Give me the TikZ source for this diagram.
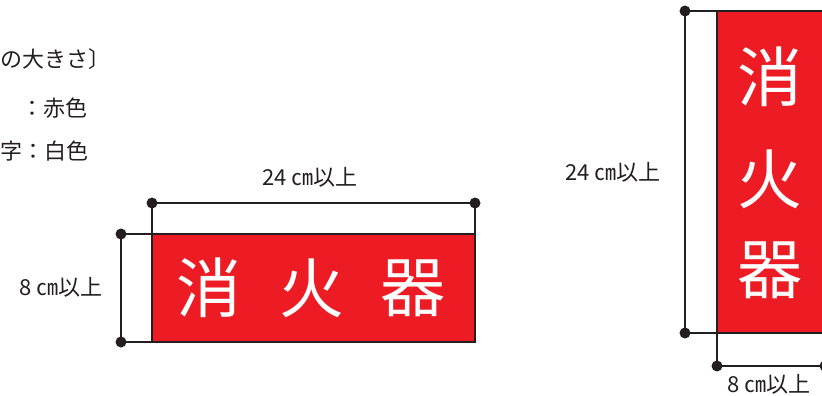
\documentclass[tikz,border=0pt]{standalone}
\usepackage{fontspec}
\newfontfamily\jp{Noto Sans CJK JP}
\definecolor{signred}{RGB}{237,28,36}
\definecolor{ink}{RGB}{35,31,32}
\begin{document}
\begin{tikzpicture}[x=1pt,y=-1pt,
 dim/.style={draw=ink,line width=1.9pt},
 dotnode/.style={circle,fill=ink,inner sep=0pt,minimum size=11pt},
 lbl/.style={font=\jp\fontsize{22}{26}\selectfont,text=ink,inner sep=0pt},
 note/.style={font=\jp\fontsize{22}{26}\selectfont,text=ink,inner sep=0pt,anchor=west},
 big/.style={font=\jp\fontsize{65}{70}\selectfont,text=white,inner sep=0pt},
 sign/.style={fill=signred,draw=ink,line width=1.9pt,inner sep=0pt,outer sep=0pt,anchor=north west}]
\useasboundingbox (0,0) rectangle (822,396);
\clip (0,0) rectangle (822,396);
% notes at left
\node[note] (n1) at (0,59) {の大きさ〕};
\node[note] (n2) at (21,108) {：赤色};
\node[note] (n3) at (0,151) {字：白色};
% left (horizontal) sign
\node[sign,minimum width=323pt,minimum height=108pt] (s1) at (152,234) {};
\node[big] (c11) at (209,288) {消};
\node[big] (c12) at (312,288) {火};
\node[big] (c13) at (413,288) {器};
\node[dotnode] (t1) at (152,203) {};
\node[dotnode] (t2) at (475,203) {};
\node[dotnode] (l1) at (121,234) {};
\node[dotnode] (l2) at (121,342) {};
\draw[dim] (t1.center) -- (t2.center);
\draw[dim] (t1.center) -- (s1.north west);
\draw[dim] (t2.center) -- (s1.north east);
\draw[dim] (l1.center) -- (l2.center);
\draw[dim] (l1.center) -- (s1.north west);
\draw[dim] (l2.center) -- (s1.south west);
\node[lbl] (w1) at (310,177) {24 ㎝以上};
\node[lbl,anchor=east] (h1) at (103,287) {8 ㎝以上};
% right (vertical) sign
\node[sign,minimum width=108pt,minimum height=322pt] (s2) at (717,11) {};
\node[big] (c21) at (770,77) {消};
\node[big] (c22) at (770,179) {火};
\node[big] (c23) at (770,270) {器};
\node[dotnode] (r1) at (685,11) {};
\node[dotnode] (r2) at (685,333) {};
\node[dotnode] (b1) at (717,366) {};
\node[dotnode] (b2) at (825,366) {};
\draw[dim] (r1.center) -- (r2.center);
\draw[dim] (r1.center) -- (s2.north west);
\draw[dim] (r2.center) -- (s2.south west);
\draw[dim] (b1.center) -- (b2.center);
\draw[dim] (b1.center) -- (s2.south west);
\draw[dim] (b2.center) -- (s2.south east);
\node[lbl] (h2) at (613,172) {24 ㎝以上};
\node[lbl] (w2) at (769,384) {8 ㎝以上};
\end{tikzpicture}
\end{document}
